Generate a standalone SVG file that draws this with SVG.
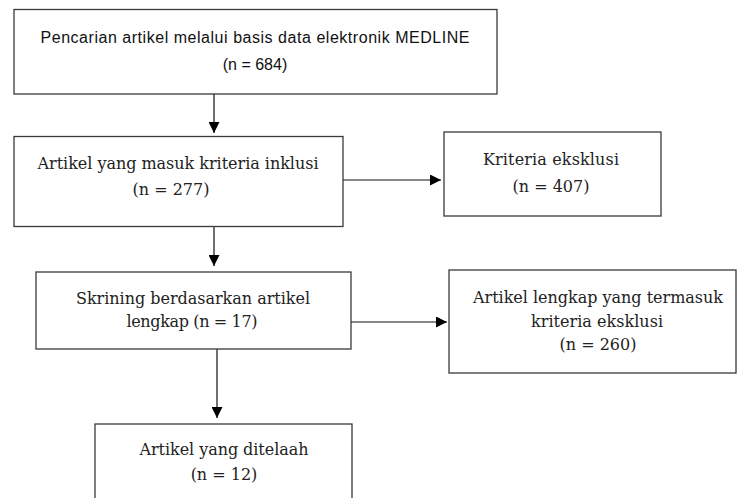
<svg xmlns="http://www.w3.org/2000/svg" width="737" height="498" viewBox="0 0 737 498">
<style>
.box{fill:#fff;stroke:#3a3a3a;stroke-width:1.3}
.sans{font-family:"Liberation Sans",Arial,sans-serif;font-size:16px;fill:#111;text-anchor:middle}
.serif{font-family:"DejaVu Serif","Liberation Serif",serif;font-size:16px;fill:#222;text-anchor:middle}
.conn{stroke:#111;stroke-width:1.2;fill:none}
</style>
<defs>
<marker id="ah" markerWidth="11" markerHeight="11" viewBox="0 0 12 12" refX="12" refY="6" orient="auto" markerUnits="userSpaceOnUse">
<path d="M0,0 L12,6 L0,12 Z" fill="#000"/>
</marker>
</defs>
<rect width="737" height="498" fill="#fff"/>
<g id="connectors">
<line class="conn" x1="214" y1="94" x2="214" y2="133" marker-end="url(#ah)"/>
<line class="conn" x1="343" y1="180" x2="441" y2="180" marker-end="url(#ah)"/>
<line class="conn" x1="214" y1="227" x2="214" y2="266" marker-end="url(#ah)"/>
<line class="conn" x1="351" y1="322" x2="447" y2="322" marker-end="url(#ah)"/>
<line class="conn" x1="217" y1="349" x2="217" y2="418" marker-end="url(#ah)"/>
</g>
<g id="node1">
<rect class="box" x="14" y="9.5" width="483" height="84.5"/>
<text class="sans" x="255" y="43" textLength="429">Pencarian artikel melalui basis data elektronik MEDLINE</text>
<text class="sans" x="255" y="70">(n = 684)</text>
</g>
<g id="node2">
<rect class="box" x="14" y="136.5" width="329" height="90"/>
<text class="serif" x="178" y="169" textLength="281">Artikel yang masuk kriteria inklusi</text>
<text class="serif" x="171" y="195">(n = 277)</text>
</g>
<g id="node3">
<rect class="box" x="444" y="132" width="217" height="84"/>
<text class="serif" x="551" y="165" textLength="136">Kriteria eksklusi</text>
<text class="serif" x="551" y="192">(n = 407)</text>
</g>
<g id="node4">
<rect class="box" x="36" y="272" width="315" height="77"/>
<text class="serif" x="193" y="304" textLength="234">Skrining berdasarkan artikel</text>
<text class="serif" x="192" y="327" textLength="131">lengkap (n = 17)</text>
</g>
<g id="node5">
<rect class="box" x="449" y="270" width="287" height="103"/>
<text class="serif" x="598" y="303" textLength="250">Artikel lengkap yang termasuk</text>
<text class="serif" x="597" y="327" textLength="132">kriteria eksklusi</text>
<text class="serif" x="598" y="350">(n = 260)</text>
</g>
<g id="node6">
<rect class="box" x="95" y="424" width="257" height="90"/>
<text class="serif" x="224" y="455" textLength="169">Artikel yang ditelaah</text>
<text class="serif" x="224" y="480">(n = 12)</text>
</g>
</svg>
